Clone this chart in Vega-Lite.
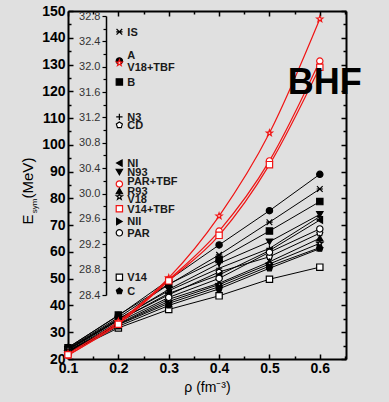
{
  "$schema": "https://vega.github.io/schema/vega-lite/v6.json",
  "width": 278,
  "height": 348,
  "autosize": {"type": "none"},
  "padding": {"left": 68, "top": 11, "right": 43, "bottom": 43},
  "background": "#e0e0e0",
  "config": {
    "view": {"stroke": null},
    "font": "Liberation Sans",
    "axis": {"grid": false, "domainColor": "black", "tickColor": "black", "labelColor": "black", "titleColor": "black"}
  },
  "datasets": {
    "curves": [
      {"model": "IS", "rho": 0.1, "E": 24.0}, {"model": "IS", "rho": 0.2, "E": 35.5}, {"model": "IS", "rho": 0.3, "E": 47.8}, {"model": "IS", "rho": 0.4, "E": 58.9}, {"model": "IS", "rho": 0.5, "E": 71.1}, {"model": "IS", "rho": 0.6, "E": 83.5},
      {"model": "A", "rho": 0.1, "E": 24.3}, {"model": "A", "rho": 0.2, "E": 36.2}, {"model": "A", "rho": 0.3, "E": 49.5}, {"model": "A", "rho": 0.4, "E": 62.6}, {"model": "A", "rho": 0.5, "E": 75.4}, {"model": "A", "rho": 0.6, "E": 89.0},
      {"model": "B", "rho": 0.1, "E": 24.2}, {"model": "B", "rho": 0.2, "E": 36.4}, {"model": "B", "rho": 0.3, "E": 48.0}, {"model": "B", "rho": 0.4, "E": 57.2}, {"model": "B", "rho": 0.5, "E": 67.8}, {"model": "B", "rho": 0.6, "E": 78.8},
      {"model": "N3", "rho": 0.1, "E": 23.8}, {"model": "N3", "rho": 0.2, "E": 35.0}, {"model": "N3", "rho": 0.3, "E": 45.5}, {"model": "N3", "rho": 0.4, "E": 53.9}, {"model": "N3", "rho": 0.5, "E": 61.3}, {"model": "N3", "rho": 0.6, "E": 73.2},
      {"model": "CD", "rho": 0.1, "E": 23.5}, {"model": "CD", "rho": 0.2, "E": 34.5}, {"model": "CD", "rho": 0.3, "E": 44.0}, {"model": "CD", "rho": 0.4, "E": 52.5}, {"model": "CD", "rho": 0.5, "E": 58.2}, {"model": "CD", "rho": 0.6, "E": 67.0},
      {"model": "NI", "rho": 0.1, "E": 23.3}, {"model": "NI", "rho": 0.2, "E": 34.4}, {"model": "NI", "rho": 0.3, "E": 44.5}, {"model": "NI", "rho": 0.4, "E": 51.4}, {"model": "NI", "rho": 0.5, "E": 60.5}, {"model": "NI", "rho": 0.6, "E": 71.9},
      {"model": "N93", "rho": 0.1, "E": 23.6}, {"model": "N93", "rho": 0.2, "E": 34.8}, {"model": "N93", "rho": 0.3, "E": 46.0}, {"model": "N93", "rho": 0.4, "E": 55.7}, {"model": "N93", "rho": 0.5, "E": 63.8}, {"model": "N93", "rho": 0.6, "E": 74.0},
      {"model": "R93", "rho": 0.1, "E": 22.8}, {"model": "R93", "rho": 0.2, "E": 33.2}, {"model": "R93", "rho": 0.3, "E": 42.3}, {"model": "R93", "rho": 0.4, "E": 48.3}, {"model": "R93", "rho": 0.5, "E": 56.3}, {"model": "R93", "rho": 0.6, "E": 65.1},
      {"model": "V18", "rho": 0.1, "E": 22.6}, {"model": "V18", "rho": 0.2, "E": 33.0}, {"model": "V18", "rho": 0.3, "E": 41.5}, {"model": "V18", "rho": 0.4, "E": 47.8}, {"model": "V18", "rho": 0.5, "E": 55.5}, {"model": "V18", "rho": 0.6, "E": 63.2},
      {"model": "NII", "rho": 0.1, "E": 23.0}, {"model": "NII", "rho": 0.2, "E": 32.8}, {"model": "NII", "rho": 0.3, "E": 40.8}, {"model": "NII", "rho": 0.4, "E": 47.0}, {"model": "NII", "rho": 0.5, "E": 54.7}, {"model": "NII", "rho": 0.6, "E": 61.6},
      {"model": "PAR", "rho": 0.1, "E": 23.0}, {"model": "PAR", "rho": 0.2, "E": 33.8}, {"model": "PAR", "rho": 0.3, "E": 43.0}, {"model": "PAR", "rho": 0.4, "E": 50.1}, {"model": "PAR", "rho": 0.5, "E": 59.9}, {"model": "PAR", "rho": 0.6, "E": 68.6},
      {"model": "V14", "rho": 0.1, "E": 22.4}, {"model": "V14", "rho": 0.2, "E": 31.6}, {"model": "V14", "rho": 0.3, "E": 38.5}, {"model": "V14", "rho": 0.4, "E": 43.6}, {"model": "V14", "rho": 0.5, "E": 49.8}, {"model": "V14", "rho": 0.6, "E": 54.3},
      {"model": "C", "rho": 0.1, "E": 22.5}, {"model": "C", "rho": 0.2, "E": 32.2}, {"model": "C", "rho": 0.3, "E": 40.0}, {"model": "C", "rho": 0.4, "E": 46.2}, {"model": "C", "rho": 0.5, "E": 53.9}, {"model": "C", "rho": 0.6, "E": 61.2},
      {"model": "V18+TBF", "rho": 0.1, "E": 22.0}, {"model": "V18+TBF", "rho": 0.2, "E": 34.0}, {"model": "V18+TBF", "rho": 0.3, "E": 50.3}, {"model": "V18+TBF", "rho": 0.4, "E": 73.4}, {"model": "V18+TBF", "rho": 0.5, "E": 104.4}, {"model": "V18+TBF", "rho": 0.6, "E": 147.0},
      {"model": "PAR+TBF", "rho": 0.1, "E": 21.3}, {"model": "PAR+TBF", "rho": 0.2, "E": 33.4}, {"model": "PAR+TBF", "rho": 0.3, "E": 49.6}, {"model": "PAR+TBF", "rho": 0.4, "E": 67.8}, {"model": "PAR+TBF", "rho": 0.5, "E": 94.0}, {"model": "PAR+TBF", "rho": 0.6, "E": 131.3},
      {"model": "V14+TBF", "rho": 0.1, "E": 21.6}, {"model": "V14+TBF", "rho": 0.2, "E": 33.0}, {"model": "V14+TBF", "rho": 0.3, "E": 49.2}, {"model": "V14+TBF", "rho": 0.4, "E": 66.2}, {"model": "V14+TBF", "rho": 0.5, "E": 92.6}, {"model": "V14+TBF", "rho": 0.6, "E": 129.0}
    ],
    "sat": [
      {"model": "IS", "Es": 32.55}, {"model": "A", "Es": 32.09}, {"model": "V18+TBF", "Es": 32.06}, {"model": "B", "Es": 31.76},
      {"model": "N3", "Es": 31.21}, {"model": "CD", "Es": 31.08}, {"model": "NI", "Es": 30.48}, {"model": "N93", "Es": 30.34},
      {"model": "PAR+TBF", "Es": 30.15}, {"model": "R93", "Es": 30.04}, {"model": "V18", "Es": 29.95}, {"model": "V14+TBF", "Es": 29.76},
      {"model": "NII", "Es": 29.56}, {"model": "PAR", "Es": 29.38}, {"model": "V14", "Es": 28.68}, {"model": "C", "Es": 28.46}
    ],
    "ytitle": [
      {"part": "E", "rho": 0.0306, "E": 72.1},
      {"part": "sym", "rho": 0.0384, "E": 77.2},
      {"part": "(MeV)", "rho": 0.0306, "E": 87.6}
    ]
  },
  "layer": [
    {
      "data": {"name": "curves"},
      "transform": [{"filter": {"not": {"field": "model", "oneOf": ["V18+TBF", "PAR+TBF", "V14+TBF"]}}}],
      "mark": {"type": "line", "color": "black", "strokeWidth": 1},
      "encoding": {
        "x": {"field": "rho", "type": "quantitative", "scale": {"domain": [0.1, 0.652], "nice": false, "zero": false},
          "axis": {"orient": "bottom", "values": [0.1, 0.15, 0.2, 0.25, 0.3, 0.35, 0.4, 0.45, 0.5, 0.55, 0.6, 0.65],
            "labelExpr": "abs(datum.value*10 - round(datum.value*10)) < 0.001 ? format(datum.value, '.1f') : ''",
            "tickSize": {"condition": {"test": "abs(datum.value*10 - round(datum.value*10)) < 0.001", "value": -5}, "value": -3},
            "tickWidth": 1.5, "domainWidth": 2, "labelFontSize": 14, "labelFontWeight": "bold", "labelPadding": 7,
            "labelFlush": false, "labelOverlap": false,
            "title": "ρ (fm⁻³)", "titleFontSize": 14, "titleFontWeight": "normal", "titlePadding": 3}},
        "y": {"field": "E", "type": "quantitative", "scale": {"domain": [20, 150], "nice": false, "zero": false},
          "axis": {"orient": "left", "values": [20, 25, 30, 35, 40, 45, 50, 55, 60, 65, 70, 75, 80, 85, 90, 95, 100, 105, 110, 115, 120, 125, 130, 135, 140, 145, 150],
            "labelExpr": "datum.value % 10 === 0 ? datum.label : ''",
            "tickSize": {"condition": {"test": "datum.value % 10 === 0", "value": -5}, "value": -3},
            "tickWidth": 1.5, "domainWidth": 2, "labelFontSize": 14, "labelFontWeight": "bold", "labelPadding": 8,
            "labelFlush": false, "labelOverlap": false, "title": null}},
        "detail": {"field": "model"}
      }
    },
    {
      "data": {"name": "curves"},
      "transform": [{"filter": {"field": "model", "oneOf": ["V18+TBF", "PAR+TBF", "V14+TBF"]}}],
      "mark": {"type": "line", "color": "#f01414", "strokeWidth": 1.2, "interpolate": "monotone"},
      "encoding": {
        "x": {"field": "rho", "type": "quantitative", "scale": {"domain": [0.1, 0.652], "nice": false, "zero": false}, "axis": null},
        "y": {"field": "E", "type": "quantitative", "scale": {"domain": [20, 150], "nice": false, "zero": false}, "axis": null},
        "detail": {"field": "model"}
      }
    },
    {
      "data": {"name": "curves"},
      "mark": {"type": "point", "size": 40, "strokeWidth": 1.2, "opacity": 1},
      "encoding": {
        "x": {"field": "rho", "type": "quantitative", "scale": {"domain": [0.1, 0.652], "nice": false, "zero": false},
          "axis": {"orient": "top", "values": [0.1, 0.15, 0.2, 0.25, 0.3, 0.35, 0.4, 0.45, 0.5, 0.55, 0.6, 0.65], "labels": false,
            "tickSize": {"condition": {"test": "abs(datum.value*10 - round(datum.value*10)) < 0.001", "value": -5}, "value": -3},
            "tickWidth": 1.5, "domainWidth": 2, "title": null}},
        "y": {"field": "E", "type": "quantitative", "scale": {"domain": [20, 150], "nice": false, "zero": false},
          "axis": {"orient": "right", "values": [20, 25, 30, 35, 40, 45, 50, 55, 60, 65, 70, 75, 80, 85, 90, 95, 100, 105, 110, 115, 120, 125, 130, 135, 140, 145, 150], "labels": false,
            "tickSize": {"condition": {"test": "datum.value % 10 === 0", "value": -5}, "value": -3},
            "tickWidth": 1.5, "domainWidth": 2, "title": null}},
        "shape": {"field": "model", "legend": null, "scale": {
          "domain": ["IS", "A", "V18+TBF", "B", "N3", "CD", "NI", "N93", "PAR+TBF", "R93", "V18", "V14+TBF", "NII", "PAR", "V14", "C"],
          "range": ["M-0.9,-0.9L0.9,0.9M-0.9,0.9L0.9,-0.9M-1,0L1,0", "circle", "M0,-1L0.235,-0.324L0.951,-0.309L0.38,0.124L0.588,0.809L0,0.4L-0.588,0.809L-0.38,0.124L-0.951,-0.309L-0.235,-0.324Z", "square", "M-1,0L1,0M0,-1L0,1", "M0,-1L0.951,-0.309L0.588,0.809L-0.588,0.809L-0.951,-0.309Z", "triangle-left", "triangle-down", "circle", "triangle-up", "M0,-1L0.235,-0.324L0.951,-0.309L0.38,0.124L0.588,0.809L0,0.4L-0.588,0.809L-0.38,0.124L-0.951,-0.309L-0.235,-0.324Z", "square", "triangle-right", "circle", "square", "M0,-1L0.951,-0.309L0.588,0.809L-0.588,0.809L-0.951,-0.309Z"]}},
        "fill": {"field": "model", "legend": null, "scale": {
          "domain": ["IS", "A", "V18+TBF", "B", "N3", "CD", "NI", "N93", "PAR+TBF", "R93", "V18", "V14+TBF", "NII", "PAR", "V14", "C"],
          "range": ["transparent", "black", "white", "black", "transparent", "white", "black", "black", "white", "black", "white", "white", "black", "white", "white", "black"]}},
        "stroke": {"field": "model", "legend": null, "scale": {
          "domain": ["IS", "A", "V18+TBF", "B", "N3", "CD", "NI", "N93", "PAR+TBF", "R93", "V18", "V14+TBF", "NII", "PAR", "V14", "C"],
          "range": ["black", "black", "#f01414", "black", "black", "black", "black", "black", "#f01414", "black", "black", "#f01414", "black", "black", "black", "black"]}}
      }
    },
    {
      "data": {"name": "sat"},
      "mark": {"type": "point", "size": 40, "strokeWidth": 1.2, "opacity": 1},
      "encoding": {
        "x": {"datum": 0.202, "type": "quantitative", "scale": {"domain": [0.1, 0.652], "nice": false, "zero": false}, "axis": null},
        "y": {"field": "Es", "type": "quantitative", "scale": {"domain": [28.4, 32.8], "range": [284, 5], "nice": false, "zero": false},
          "axis": {"orient": "left", "offset": -38, "values": [28.4, 28.6, 28.8, 29.0, 29.2, 29.4, 29.6, 29.8, 30.0, 30.2, 30.4, 30.6, 30.8, 31.0, 31.2, 31.4, 31.6, 31.8, 32.0, 32.2, 32.4, 32.6, 32.8],
            "labelExpr": "round(datum.value*10) % 4 === 0 ? format(datum.value, '.1f') : ''",
            "tickSize": {"condition": {"test": "round(datum.value*10) % 4 === 0", "value": 4}, "value": 3},
            "tickWidth": 1.2, "domainWidth": 1.5, "labelFontSize": 11, "labelColor": "#333333", "labelPadding": 2,
            "labelFlush": false, "labelOverlap": false, "title": null}},
        "shape": {"field": "model", "legend": null, "scale": {
          "domain": ["IS", "A", "V18+TBF", "B", "N3", "CD", "NI", "N93", "PAR+TBF", "R93", "V18", "V14+TBF", "NII", "PAR", "V14", "C"],
          "range": ["M-0.9,-0.9L0.9,0.9M-0.9,0.9L0.9,-0.9M-1,0L1,0", "circle", "M0,-1L0.235,-0.324L0.951,-0.309L0.38,0.124L0.588,0.809L0,0.4L-0.588,0.809L-0.38,0.124L-0.951,-0.309L-0.235,-0.324Z", "square", "M-1,0L1,0M0,-1L0,1", "M0,-1L0.951,-0.309L0.588,0.809L-0.588,0.809L-0.951,-0.309Z", "triangle-left", "triangle-down", "circle", "triangle-up", "M0,-1L0.235,-0.324L0.951,-0.309L0.38,0.124L0.588,0.809L0,0.4L-0.588,0.809L-0.38,0.124L-0.951,-0.309L-0.235,-0.324Z", "square", "triangle-right", "circle", "square", "M0,-1L0.951,-0.309L0.588,0.809L-0.588,0.809L-0.951,-0.309Z"]}},
        "fill": {"field": "model", "legend": null, "scale": {
          "domain": ["IS", "A", "V18+TBF", "B", "N3", "CD", "NI", "N93", "PAR+TBF", "R93", "V18", "V14+TBF", "NII", "PAR", "V14", "C"],
          "range": ["transparent", "black", "white", "black", "transparent", "white", "black", "black", "white", "black", "white", "white", "black", "white", "white", "black"]}},
        "stroke": {"field": "model", "legend": null, "scale": {
          "domain": ["IS", "A", "V18+TBF", "B", "N3", "CD", "NI", "N93", "PAR+TBF", "R93", "V18", "V14+TBF", "NII", "PAR", "V14", "C"],
          "range": ["black", "black", "#f01414", "black", "black", "black", "black", "black", "#f01414", "black", "black", "#f01414", "black", "black", "black", "black"]}}
      }
    },
    {
      "data": {"name": "sat"},
      "transform": [{"filter": {"not": {"field": "model", "oneOf": ["A", "V18+TBF", "PAR+TBF", "V18"]}}}],
      "mark": {"type": "text", "align": "left", "baseline": "middle", "dx": 8, "dy": 1, "fontSize": 11, "fontWeight": "bold", "color": "#1a1a1a"},
      "encoding": {
        "x": {"datum": 0.202, "type": "quantitative", "scale": {"domain": [0.1, 0.652], "nice": false, "zero": false}, "axis": null},
        "y": {"field": "Es", "type": "quantitative", "scale": {"domain": [28.4, 32.8], "range": [284, 5], "nice": false, "zero": false}, "axis": null},
        "text": {"field": "model"}
      }
    },
    {
      "data": {"name": "sat"},
      "transform": [{"filter": {"field": "model", "equal": "A"}}],
      "mark": {"type": "text", "align": "left", "baseline": "middle", "dx": 8, "dy": -5, "fontSize": 11, "fontWeight": "bold", "color": "#1a1a1a"},
      "encoding": {
        "x": {"datum": 0.202, "type": "quantitative", "scale": {"domain": [0.1, 0.652], "nice": false, "zero": false}, "axis": null},
        "y": {"field": "Es", "type": "quantitative", "scale": {"domain": [28.4, 32.8], "range": [284, 5], "nice": false, "zero": false}, "axis": null},
        "text": {"field": "model"}
      }
    },
    {
      "data": {"name": "sat"},
      "transform": [{"filter": {"field": "model", "equal": "V18+TBF"}}],
      "mark": {"type": "text", "align": "left", "baseline": "middle", "dx": 8, "dy": 5, "fontSize": 11, "fontWeight": "bold", "color": "#1a1a1a"},
      "encoding": {
        "x": {"datum": 0.202, "type": "quantitative", "scale": {"domain": [0.1, 0.652], "nice": false, "zero": false}, "axis": null},
        "y": {"field": "Es", "type": "quantitative", "scale": {"domain": [28.4, 32.8], "range": [284, 5], "nice": false, "zero": false}, "axis": null},
        "text": {"field": "model"}
      }
    },
    {
      "data": {"name": "sat"},
      "transform": [{"filter": {"field": "model", "equal": "PAR+TBF"}}],
      "mark": {"type": "text", "align": "left", "baseline": "middle", "dx": 8, "dy": -2, "fontSize": 11, "fontWeight": "bold", "color": "#1a1a1a"},
      "encoding": {
        "x": {"datum": 0.202, "type": "quantitative", "scale": {"domain": [0.1, 0.652], "nice": false, "zero": false}, "axis": null},
        "y": {"field": "Es", "type": "quantitative", "scale": {"domain": [28.4, 32.8], "range": [284, 5], "nice": false, "zero": false}, "axis": null},
        "text": {"field": "model"}
      }
    },
    {
      "data": {"name": "sat"},
      "transform": [{"filter": {"field": "model", "equal": "V18"}}],
      "mark": {"type": "text", "align": "left", "baseline": "middle", "dx": 8, "dy": 3, "fontSize": 11, "fontWeight": "bold", "color": "#1a1a1a"},
      "encoding": {
        "x": {"datum": 0.202, "type": "quantitative", "scale": {"domain": [0.1, 0.652], "nice": false, "zero": false}, "axis": null},
        "y": {"field": "Es", "type": "quantitative", "scale": {"domain": [28.4, 32.8], "range": [284, 5], "nice": false, "zero": false}, "axis": null},
        "text": {"field": "model"}
      }
    },
    {
      "data": {"name": "ytitle"},
      "transform": [{"filter": {"field": "part", "oneOf": ["E", "(MeV)"]}}],
      "mark": {"type": "text", "fontSize": 15, "angle": 270, "align": "center", "baseline": "alphabetic", "color": "black", "clip": false},
      "encoding": {
        "x": {"field": "rho", "type": "quantitative", "scale": {"domain": [0.1, 0.652], "nice": false, "zero": false}, "axis": null},
        "y": {"field": "E", "type": "quantitative", "scale": {"domain": [20, 150], "nice": false, "zero": false}, "axis": null},
        "text": {"field": "part"}
      }
    },
    {
      "data": {"name": "ytitle"},
      "transform": [{"filter": {"field": "part", "equal": "sym"}}],
      "mark": {"type": "text", "fontSize": 8, "angle": 270, "align": "center", "baseline": "alphabetic", "color": "black", "clip": false},
      "encoding": {
        "x": {"field": "rho", "type": "quantitative", "scale": {"domain": [0.1, 0.652], "nice": false, "zero": false}, "axis": null},
        "y": {"field": "E", "type": "quantitative", "scale": {"domain": [20, 150], "nice": false, "zero": false}, "axis": null},
        "text": {"field": "part"}
      }
    },
    {
      "data": {"values": [{}]},
      "mark": {"type": "text", "text": "BHF", "fontSize": 36, "fontWeight": "bold", "align": "center", "baseline": "middle", "color": "black", "clip": false},
      "encoding": {
        "x": {"datum": 0.61, "type": "quantitative", "scale": {"domain": [0.1, 0.652], "nice": false, "zero": false}, "axis": null},
        "y": {"datum": 123, "type": "quantitative", "scale": {"domain": [20, 150], "nice": false, "zero": false}, "axis": null}
      }
    }
  ],
  "resolve": {"scale": {"y": "independent"}, "axis": {"x": "independent", "y": "independent"}}
}
